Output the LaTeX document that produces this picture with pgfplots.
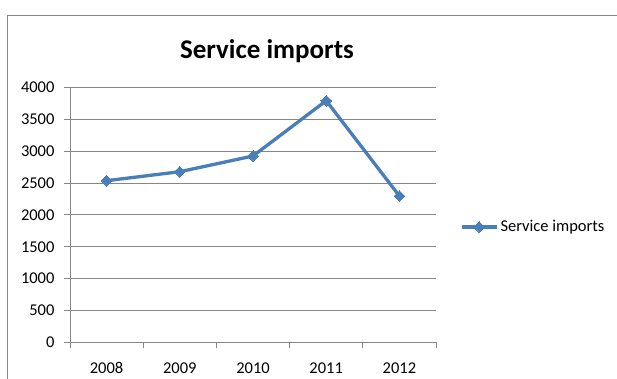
\documentclass[border=0pt]{standalone}
\usepackage{pgfplots}
\pgfplotsset{compat=1.18}
\usepackage{fontspec}
\setmainfont{Carlito}
\definecolor{lineblue}{HTML}{4A7EBB}
\definecolor{axgray}{HTML}{868686}
\begin{document}
\begin{tikzpicture}[x=1pt,y=1pt]
\useasboundingbox (0,0) rectangle (617,379);
\fill[white] (0,0) rectangle (617,379);
\draw[axgray, line width=1pt] (7,-2) -- (7,363) -- (619,363);
\node[font=\fontsize{27}{31}\selectfont\bfseries] at (267,328) {Service imports};
\begin{axis}[
  at={(70pt,36.5pt)}, anchor=south west,
  scale only axis, width=366pt, height=255.2pt,
  xmin=-0.5, xmax=4.5, ymin=0, ymax=4000,
  xtick={0,...,4}, xticklabels={2008,2009,2010,2011,2012},
  minor xtick={-0.5,0.5,...,4.5},
  ytick={0,500,...,4000},
  major x tick style={draw=none},
  tick align=outside, major tick length=6pt, minor tick length=6pt,
  tick style={axgray, line width=0.8pt},
  ymajorgrids, grid style={axgray, line width=0.8pt},
  axis x line*=bottom, axis y line*=left,
  axis line style={axgray, line width=0.8pt, -},
  tick label style={font=\fontsize{16.5}{19}\selectfont},
  /pgf/number format/assume math mode=true,
  /pgf/number format/1000 sep={},
  yticklabel style={xshift=-6pt},
  xticklabel style={text height=11pt, text depth=0pt, yshift=-10pt},
  legend style={at={(1.0656,0.4526)}, anchor=west, draw=none, fill=none,
    inner sep=0pt, font=\fontsize{16.5}{19}\selectfont},
  legend image code/.code={\draw[#1, mark repeat=2, mark phase=2] plot coordinates {(0pt,0pt) (17.5pt,0pt) (35pt,0pt)};},
]
\addplot[lineblue, line width=3.3pt, mark=square*, mark size=3.8pt,
  mark options={rotate=45, line width=0pt, fill=lineblue}]
  coordinates {(0,2536) (1,2677) (2,2923) (3,3790) (4,2296)};
\addlegendentry{Service imports}
\end{axis}
\end{tikzpicture}
\end{document}
